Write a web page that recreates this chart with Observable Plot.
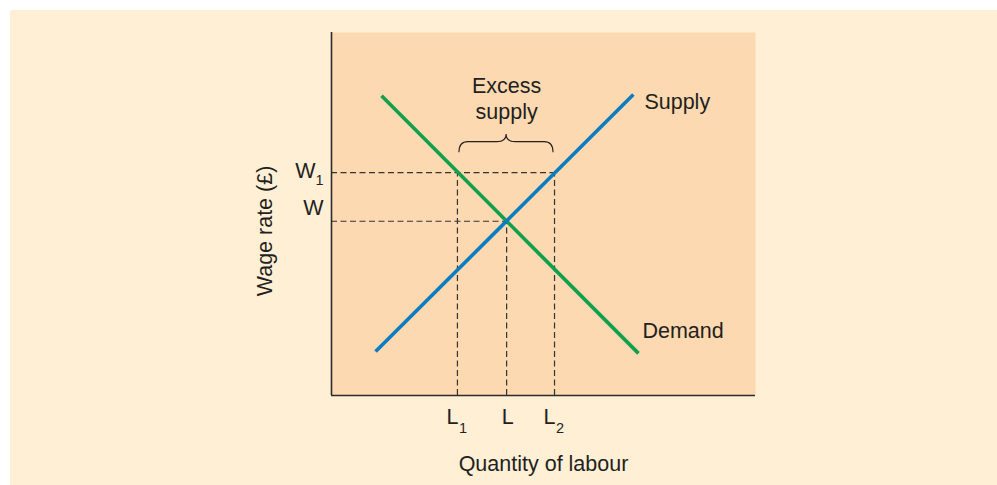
<!DOCTYPE html>
<html><head><meta charset="utf-8">
<script src="https://cdn.jsdelivr.net/npm/d3@7"></script>
<script src="https://cdn.jsdelivr.net/npm/@observablehq/plot@0.6"></script>
<style>
body{margin:0;background:#fff;}
#panel{position:absolute;left:10px;top:10px;width:987px;height:475px;background:#feefd5;}
#chart{position:absolute;left:0;top:0;}
</style></head><body><div id="panel"><div id="chart"></div></div>
<script>
// Curves (quantity of labour, wage rate) in arbitrary units 0-100
const supplyQ = [10.4, 71.2];
const supplyW = [12.1, 82.9];
const demandQ = [11.8, 72.4];
const demandW = [82.6, 11.6];
// Key levels
const qL1 = 29.7, qL = 41.3, qL2 = 52.6;
const wW = 48.0, wW1 = 61.4;
const curveNames = ["Supply", "Demand"];
const axisTitles = ["Quantity of labour", "Wage rate (£)"];
const annotation = "Excess\nsupply";
// brace levels (bottom of arms, bar, tip)
const braceLevels = [66.9, 69.8, 71.9];

const supply = supplyQ.map((q, i) => ({q, w: supplyW[i]}));
const demand = demandQ.map((q, i) => ({q, w: demandW[i]}));

const ink = "#231f20";
const fs = 21.5, fsSub = 14.5;
const dash = {stroke: "#333333", strokeWidth: 1.2, strokeDasharray: "6,3.5"};
const font = "Liberation Sans, Arial, Helvetica, sans-serif";

function brace(index, scales) {
  const x1 = scales.x(qL1) + 2, x2 = scales.x(qL2) - 1, xm = scales.x(qL);
  const yb = scales.y(braceLevels[0]), yh = scales.y(braceLevels[1]), yt = scales.y(braceLevels[2]);
  const r = 9;
  const p = `M${x1},${yb} Q${x1},${yh} ${x1 + r},${yh} L${xm - r},${yh} Q${xm},${yh} ${xm},${yt} Q${xm},${yh} ${xm + r},${yh} L${x2 - r},${yh} Q${x2},${yh} ${x2},${yb}`;
  const path = document.createElementNS("http://www.w3.org/2000/svg", "path");
  path.setAttribute("d", p);
  path.setAttribute("fill", "none");
  path.setAttribute("stroke", ink);
  path.setAttribute("stroke-width", "1.1");
  return path;
}

const chart = Plot.plot({
  width: 987, height: 475,
  marginLeft: 321, marginRight: 242, marginTop: 22, marginBottom: 90,
  x: {domain: [0, 100], axis: null},
  y: {domain: [0, 100], axis: null},
  style: {background: "transparent", fontFamily: font, color: ink},
  marks: [
    Plot.frame({fill: "#fcd9b0", stroke: null}),
    // dashed guides
    Plot.ruleY([wW1], {y: d => d, x1: 0, x2: qL2, ...dash}),
    Plot.ruleY([wW], {y: d => d, x1: 0, x2: qL, ...dash}),
    Plot.ruleX([qL1, qL2], {x: d => d, y1: 0, y2: wW1, ...dash}),
    Plot.ruleX([qL], {x: d => d, y1: 0, y2: wW, ...dash}),
    // curves
    Plot.line(demand, {x: "q", y: "w", stroke: "#10a04c", strokeWidth: 3.6, strokeLinecap: "butt"}),
    Plot.line(supply, {x: "q", y: "w", stroke: "#0a7dc2", strokeWidth: 3.6, strokeLinecap: "butt"}),
    // axes lines
    Plot.ruleX([0], {stroke: "#2b2b2b", strokeWidth: 1.6}),
    Plot.ruleY([0], {stroke: "#2b2b2b", strokeWidth: 1.6}),
    // curve labels
    Plot.text([supply[1]], {x: "q", y: "w", text: [curveNames[0]], textAnchor: "start", lineAnchor: "bottom", dx: 11, dy: 14, fontSize: fs, fill: ink}),
    Plot.text([demand[1]], {x: "q", y: "w", text: [curveNames[1]], textAnchor: "start", lineAnchor: "bottom", dx: 4, dy: -15, fontSize: fs, fill: ink}),
    // brace + annotation
    brace,
    Plot.text([qL], {x: d => d, y: () => braceLevels[2], text: [annotation], lineAnchor: "bottom", lineHeight: 1.17, dy: -16, fontSize: fs, fill: ink}),
    // wage tick labels
    Plot.text([wW1], {y: d => d, frameAnchor: "left", text: ["W"], textAnchor: "end", lineAnchor: "bottom", dx: -16, dy: 5, fontSize: fs, fill: ink}),
    Plot.text([wW1], {y: d => d, frameAnchor: "left", text: ["1"], textAnchor: "start", lineAnchor: "bottom", dx: -16, dy: 12, fontSize: fsSub, fill: ink}),
    Plot.text([wW], {y: d => d, frameAnchor: "left", text: ["W"], textAnchor: "end", lineAnchor: "bottom", dx: -8, dy: -6, fontSize: fs, fill: ink}),
    // quantity tick labels
    Plot.text([qL1, qL2], {x: d => d, frameAnchor: "bottom", text: ["L", "L"], textAnchor: "end", lineAnchor: "bottom", dx: 1, dy: 28, fontSize: fs, fill: ink}),
    Plot.text([qL1, qL2], {x: d => d, frameAnchor: "bottom", text: ["1", "2"], textAnchor: "start", lineAnchor: "bottom", dx: 1.5, dy: 37, fontSize: fsSub, fill: ink}),
    Plot.text([qL], {x: d => d, frameAnchor: "bottom", text: ["L"], textAnchor: "middle", lineAnchor: "bottom", dx: 1, dy: 28, fontSize: fs, fill: ink}),
    // axis titles
    Plot.text([axisTitles[0]], {frameAnchor: "bottom", text: d => d, textAnchor: "middle", lineAnchor: "bottom", dy: 75, fontSize: fs, fill: ink}),
    Plot.text([axisTitles[1]], {frameAnchor: "left", text: d => d, textAnchor: "middle", rotate: -90, dx: -66, dy: 17, fontSize: fs, fill: ink})
  ]
});
document.getElementById("chart").appendChild(chart);
</script>
</body></html>
